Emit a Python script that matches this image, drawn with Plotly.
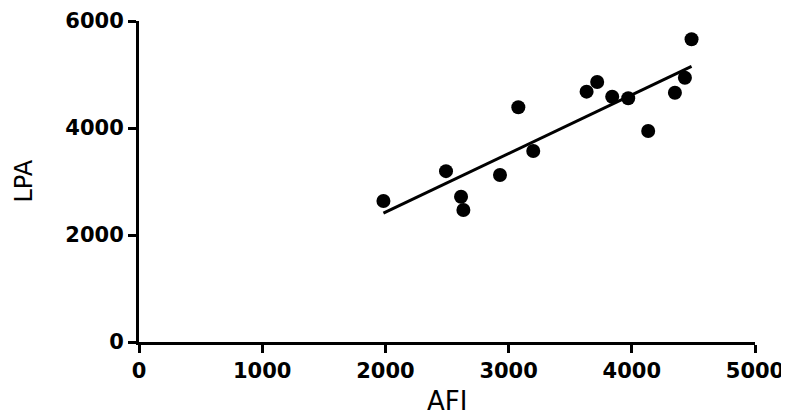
import numpy as np
import plotly.graph_objects as go

afi = [1984, 2492, 2614, 2633, 2930, 3079, 3200, 3633, 3719, 3841, 3971, 4133, 4350, 4431, 4485]
lpa = [2636, 3193, 2716, 2467, 3121, 4387, 3570, 4679, 4860, 4585, 4555, 3944, 4660, 4940, 5658]

x_ticks = [0, 1000, 2000, 3000, 4000, 5000]
y_ticks = [0, 2000, 4000, 6000]
x_title = "AFI"
y_title = "LPA"

slope, intercept = np.polyfit(afi, lpa, 1)
fit_x = [min(afi), max(afi)]
fit_y = [slope * v + intercept for v in fit_x]

fig = go.Figure()
fig.add_trace(go.Scatter(x=fit_x, y=fit_y, mode="lines",
                         line=dict(color="black", width=3), showlegend=False))
fig.add_trace(go.Scatter(x=afi, y=lpa, mode="markers",
                         marker=dict(color="black", size=14, symbol="circle"),
                         showlegend=False, cliponaxis=False))

tickfont = dict(family="DejaVu Sans", size=21, color="black", weight="bold")
fig.update_layout(
    width=781, height=409,
    margin=dict(l=131, r=34, t=13, b=75),
    paper_bgcolor="white", plot_bgcolor="white",
    xaxis=dict(range=[0, 5000], tickvals=x_ticks, ticktext=[str(v) for v in x_ticks],
               showline=True, linecolor="black", linewidth=3, mirror=False,
               ticks="outside", ticklen=8, tickwidth=3, tickcolor="black",
               showgrid=False, zeroline=False, tickfont=tickfont, automargin=False),
    yaxis=dict(range=[0, 6000], tickvals=y_ticks, ticktext=[str(v) for v in y_ticks],
               showline=True, linecolor="black", linewidth=3, mirror=False,
               ticks="outside", ticklen=8, tickwidth=3, tickcolor="black",
               showgrid=False, zeroline=False, tickfont=tickfont, automargin=False),
    annotations=[
        dict(text=x_title, xref="paper", yref="paper", x=0.5, y=0,
             xanchor="center", yanchor="middle", yshift=-59, showarrow=False,
             font=dict(family="DejaVu Sans", size=26, color="black")),
        dict(text=y_title, xref="paper", yref="paper", x=0, y=0.5,
             xanchor="center", yanchor="middle", xshift=-116, textangle=-90,
             showarrow=False, font=dict(family="DejaVu Sans", size=24, color="black")),
    ],
)
fig.write_html("out.html")
